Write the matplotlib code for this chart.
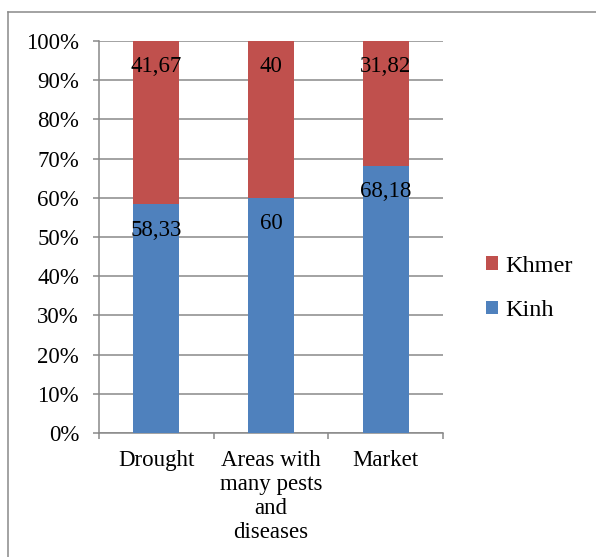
import numpy as np
import matplotlib.pyplot as plt
from matplotlib.lines import Line2D
from matplotlib.ticker import FuncFormatter


categories = ["Drought", "Areas with\nmany pests\nand\ndiseases", "Market"]
kinh = [58.33, 60, 68.18]
khmer = [41.67, 40, 31.82]
series_names = ["Kinh", "Khmer"]
yticks = [0, 10, 20, 30, 40, 50, 60, 70, 80, 90, 100]

blue = "#4F81BD"
red = "#C0504D"
grey = "#898989"

plt.rcParams['font.family'] = ['Liberation Serif', 'DejaVu Serif']
fs = 16.5

W, H = 596, 557
fig = plt.figure(figsize=(W / 100, H / 100), dpi=100)

# plot area in pixel terms
left, right, top, bottom = 99, 443, 41, 433
ax = fig.add_axes([left / W, 1 - bottom / H, (right - left) / W, (bottom - top) / H])

x = np.arange(len(categories))
b1 = ax.bar(x, kinh, width=0.4, color=blue, zorder=3, label=series_names[0])
b2 = ax.bar(x, khmer, width=0.4, bottom=kinh, color=red, zorder=3, label=series_names[1])


def fmt(v):
    return f"{v:g}".replace('.', ',')


# value labels sit just under the top of each segment
for xi, k, m in zip(x, kinh, khmer):
    ax.annotate(fmt(k), (xi, k), xytext=(0, -26), textcoords='offset pixels',
                ha='center', va='center', fontsize=fs, zorder=4)
    ax.annotate(fmt(m), (xi, k + m), xytext=(0, -26), textcoords='offset pixels',
                ha='center', va='center', fontsize=fs, zorder=4)

ax.set_xlim(-0.5, 2.5)
ax.set_ylim(0, 100)
ax.set_yticks(yticks)
ax.yaxis.set_major_formatter(FuncFormatter(lambda v, p: f"{v:.0f}%"))
ax.tick_params(axis='y', length=6 * 0.72, width=1.1, color=grey, pad=10,
               labelsize=fs, direction='out')

ax.set_xticks(x)
ax.set_xticklabels(categories, fontsize=fs, linespacing=1.2)
ax.tick_params(axis='x', which='major', length=0, pad=12)
ax.set_xticks([-0.5, 0.5, 1.5, 2.5], minor=True)
ax.tick_params(axis='x', which='minor', length=6 * 0.72, width=1.1, color=grey,
               direction='out')

ax.grid(axis='y', color=grey, linewidth=1.1, zorder=0)
ax.set_axisbelow(True)
for s in ['top', 'right']:
    ax.spines[s].set_visible(False)
for s in ['left', 'bottom']:
    ax.spines[s].set_color(grey)
    ax.spines[s].set_linewidth(1.1)

handles, labels = ax.get_legend_handles_labels()
leg = fig.legend(handles[::-1], labels[::-1], loc='upper left',
                 bbox_to_anchor=(486 / W, 1 - 256 / H), frameon=False,
                 fontsize=17.5, borderpad=0, borderaxespad=0,
                 handlelength=0.5, handleheight=0.5, handletextpad=0.3,
                 labelspacing=0.95)

# chart frame
fig.add_artist(Line2D([8 / W, 1], [1 - 12 / H, 1 - 12 / H], color=grey, lw=1.1,
                      transform=fig.transFigure))
fig.add_artist(Line2D([8 / W, 8 / W], [0, 1 - 12 / H], color=grey, lw=1.1,
                      transform=fig.transFigure))

fig.savefig("out.png", dpi=100)
